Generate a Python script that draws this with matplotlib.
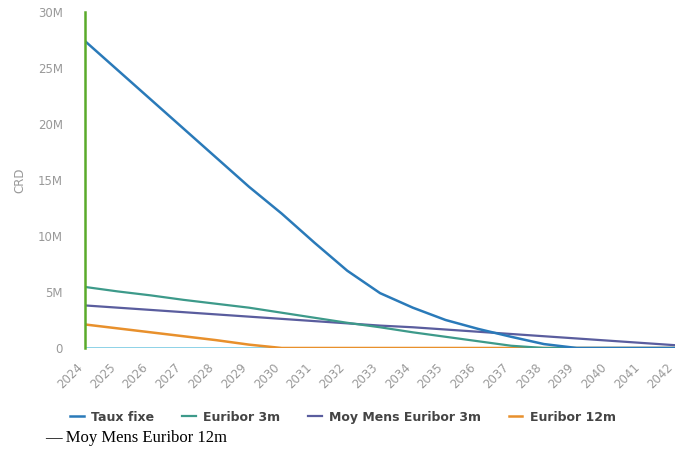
import matplotlib
matplotlib.use("Agg")
import matplotlib.pyplot as plt
from matplotlib.ticker import FuncFormatter

years = list(range(2024, 2043))

# CRD in millions
taux_fixe = [27.4, 24.8, 22.2, 19.6, 17.0, 14.4, 12.0, 9.4, 6.9, 4.9,
             3.6, 2.5, 1.7, 1.0, 0.35, 0.0, 0.0, 0.0, 0.0]
euribor_3m = [5.45, 5.05, 4.7, 4.3, 3.95, 3.6, 3.15, 2.7, 2.25, 1.85,
              1.4, 1.0, 0.6, 0.2, 0.0, 0.0, 0.0, 0.0, 0.0]
moy_mens_3m = [3.8, 3.6, 3.4, 3.2, 3.0, 2.8, 2.6, 2.4, 2.2, 2.0,
               1.85, 1.65, 1.45, 1.25, 1.05, 0.85, 0.65, 0.45, 0.25]
euribor_12m = [2.1, 1.75, 1.4, 1.05, 0.7, 0.3, 0.0, 0.0, 0.0, 0.0,
               0.0, 0.0, 0.0, 0.0, 0.0, 0.0, 0.0, 0.0, 0.0]
moy_mens_12m = [0.0] * len(years)

fig = plt.figure(figsize=(6.86, 4.54), dpi=100)
ax = fig.add_axes([0.124, 0.2335, 0.860, 0.740])

ax.plot(years, moy_mens_12m, color="#6cc5e0", lw=1.8)
ax.plot(years, euribor_12m, color="#e8902c", lw=1.8, label="Euribor 12m")
ax.plot(years, moy_mens_3m, color="#5a5d9e", lw=1.6, label="Moy Mens Euribor 3m")
ax.plot(years, euribor_3m, color="#3d9a8a", lw=1.6, label="Euribor 3m")
ax.plot(years, taux_fixe, color="#2a7ab9", lw=1.8, label="Taux fixe")

ax.set_xlim(2024, 2042)
ax.set_ylim(0, 30)
ax.set_xticks(years)
ax.set_yticks([0, 5, 10, 15, 20, 25, 30])
ax.yaxis.set_major_formatter(FuncFormatter(lambda v, p: "0" if v == 0 else f"{int(v)}M"))

for s in ["top", "right", "bottom"]:
    ax.spines[s].set_visible(False)
ax.spines["left"].set_color("#5aaa2a")
ax.spines["left"].set_linewidth(1.8)
ax.tick_params(length=0, colors="#999999", labelsize=8.5)
ax.tick_params(axis="y", pad=16)
ax.tick_params(axis="x", pad=9)
for lbl in ax.get_xticklabels():
    lbl.set_rotation(45)
    lbl.set_ha("right")
    lbl.set_va("top")
ax.set_ylabel("CRD", color="#999999", fontsize=8.5, labelpad=8)

handles, labels = ax.get_legend_handles_labels()
order = [3, 2, 1, 0]
leg = fig.legend([handles[i] for i in order], [labels[i] for i in order],
                 loc="center", bbox_to_anchor=(0.5, 0.081), ncol=4, frameon=False,
                 handlelength=1.1, columnspacing=2.2, handletextpad=0.6,
                 prop={"size": 9, "weight": "bold"})
for t in leg.get_texts():
    t.set_color("#444444")

fig.text(0.066, 0.035, "\u2014 Moy Mens Euribor 12m", family="Liberation Serif",
         fontsize=12, color="black", va="center")

fig.savefig("out.png", dpi=100)
